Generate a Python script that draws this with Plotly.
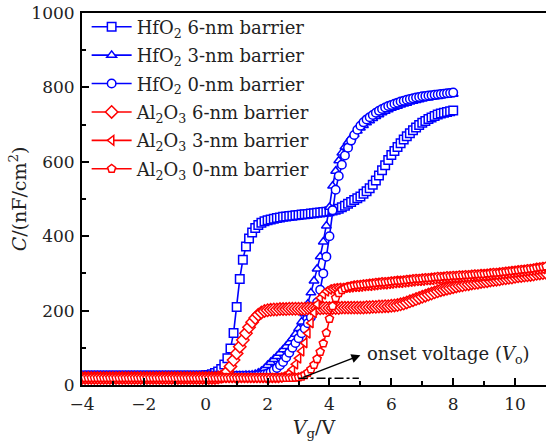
import plotly.graph_objects as go

# ---------------- data ----------------
V_HFO2 = [round(-4.0 + 0.1 * i, 1) for i in range(121)]    # gate-voltage sweep -4 ... 8 V
V_AL2O3 = [round(-4.0 + 0.1 * i, 1) for i in range(151)]   # gate-voltage sweep -4 ... 11 V

HFO2_6NM = [
    25, 25, 25, 25, 25, 25, 25, 25, 25, 25,
    25, 25, 25, 25, 25, 25, 25, 25, 25, 25,
    25, 25, 25, 25, 25, 25, 25, 25, 25, 25,
    25, 25, 25, 25, 25, 25, 25, 25, 25, 25,
    26, 27, 29, 32, 36, 43, 55, 72, 98, 140,
    210, 285, 337, 372, 394, 410, 422, 430, 436, 440,
    443, 445, 447, 449, 450, 452, 453, 454, 455, 456,
    457, 458, 459, 460, 461, 462, 463, 464, 465, 466,
    467, 469, 471, 474, 478, 482, 487, 492, 497, 502,
    507, 514, 521, 529, 538, 550, 563, 577, 591, 605,
    618, 629, 640, 650, 660, 669, 677, 685, 692, 699,
    705, 710, 715, 719, 723, 727, 730, 732, 734, 736,
    738,
]
HFO2_3NM = [
    25, 25, 25, 25, 25, 25, 25, 25, 25, 25,
    25, 25, 25, 25, 25, 25, 25, 25, 25, 25,
    25, 25, 25, 25, 25, 25, 25, 25, 25, 25,
    25, 25, 25, 25, 25, 25, 25, 25, 25, 25,
    25, 25, 25, 25, 25, 25, 25, 25, 25, 25,
    25, 25, 25, 26, 26, 27, 29, 32, 37, 44, 53,
    61, 69, 77, 86, 95, 104, 114, 125, 137, 152,
    170, 192, 218, 248, 280, 312, 345, 385, 428, 478,
    535, 575, 603, 624, 640, 653, 664, 674, 683, 691,
    698, 705, 711, 717, 722, 727, 732, 736, 740, 744,
    747, 750, 753, 756, 758, 761, 763, 765, 767, 769,
    771, 772, 774, 775, 776, 778, 779, 780, 781, 782,
    783,
]
HFO2_0NM = [
    25, 25, 25, 25, 25, 25, 25, 25, 25, 25,
    25, 25, 25, 25, 25, 25, 25, 25, 25, 25,
    25, 25, 25, 25, 25, 25, 25, 25, 25, 25,
    25, 25, 25, 25, 25, 25, 25, 25, 25, 25,
    25, 25, 25, 25, 25, 25, 25, 25, 25, 25,
    25, 25, 25, 25, 25, 25,
    25, 26, 27, 29,
    31, 35, 40, 46, 53, 62, 74, 87, 100, 113,
    126, 139, 152, 166, 182, 200, 222, 256, 300, 345,
    400, 470, 525, 562, 592, 617, 638, 657, 672, 686,
    697, 706, 714, 720, 726, 732, 737, 742, 746, 750,
    753, 756, 759, 762, 764, 767, 769, 771, 773, 774,
    776, 777, 778, 779, 780, 781, 782, 783, 784, 785,
    786,
]
AL2O3_6NM = [
    19, 19, 19, 19, 19, 19, 19, 19, 19, 19,
    19, 19, 19, 19, 19, 19, 19, 19, 19, 19,
    19, 19, 19, 19, 19, 19, 19, 19, 19, 19,
    19, 19, 19, 19, 19, 19, 19, 19, 19, 19,
    19, 19, 19, 19,
    20, 22, 27, 36, 50, 67,
    85, 103, 121, 139, 155, 169, 180, 189, 195, 199,
    201, 202, 203, 203, 204, 204, 204, 205, 205, 205,
    205, 205, 205, 206, 206, 206, 206, 206, 207, 207,
    207, 207, 207, 207, 208, 208, 208, 208, 208, 208,
    208, 208, 209, 209, 210, 210, 211, 211, 212, 212,
    213, 214, 215, 217, 219, 222, 225, 228, 231, 234,
    237, 240, 243, 246, 249, 252, 255, 257, 259, 261,
    263, 265, 267, 268, 270, 271, 273, 274, 275, 277,
    278, 279, 281, 282, 283, 284, 286, 287, 288, 289,
    291, 292, 293, 294, 295, 296, 297, 299, 300, 301,
    302,
]
AL2O3_3NM = [
    19, 19, 19, 19, 19, 19, 19, 19, 19, 19,
    19, 19, 19, 19, 19, 19, 19, 19, 19, 19,
    19, 19, 19, 19, 19, 19, 19, 19, 19, 19,
    19, 19, 19, 19, 19, 19, 19, 19, 19, 19,
    19, 19, 19, 19, 19, 19, 19, 19, 19, 19,
    19, 19, 19, 19, 19, 19, 19, 19, 19, 19,
    19, 19, 19, 19,
    20, 22, 26, 32, 42, 56,
    72, 91, 113, 139, 167, 194, 217, 234, 244, 252,
    257, 259, 260, 261, 261, 262, 262, 263, 264, 264,
    265, 266, 267, 267, 268, 269, 270, 271, 271, 272,
    273, 274, 275, 275, 276, 277, 278, 279, 280, 280,
    281, 282, 282, 283, 284, 285, 285, 286, 287, 287,
    288, 288, 289, 289, 290, 290, 291, 292, 292, 293,
    293, 294, 295, 296, 296, 297, 298, 299, 300, 301,
    302, 303, 304, 305, 306, 307, 308, 310, 311, 312,
    313,
]
AL2O3_0NM = [
    19, 19, 19, 19, 19, 19, 19, 19, 19, 19,
    19, 19, 19, 19, 19, 19, 19, 19, 19, 19,
    19, 19, 19, 19, 19, 19, 19, 19, 19, 19,
    19, 19, 19, 19, 19, 19, 19, 19, 19, 19,
    19, 19, 19, 19, 19, 19, 19, 19, 19, 19,
    19, 19, 19, 19, 19, 19, 19, 19, 19, 19,
    19, 19, 19, 19, 19, 19, 19, 19, 19,
    20,
    21, 23, 27, 33, 42, 54, 70, 89, 112, 140,
    178, 212, 234, 247, 255, 260, 264, 266, 268, 269,
    270, 271, 272, 273, 274, 275, 276, 277, 277, 278,
    279, 280, 281, 281, 282, 283, 284, 285, 286, 286,
    287, 288, 288, 289, 290, 291, 291, 292, 293, 293,
    294, 294, 295, 295, 296, 296, 297, 298, 298, 299,
    299, 300, 301, 302, 302, 303, 304, 305, 306, 307,
    308, 309, 310, 311, 312, 313, 314, 316, 317, 318,
    319,
]

SERIES_NAMES = [
    "HfO<sub>2</sub> 6-nm barrier",
    "HfO<sub>2</sub> 3-nm barrier",
    "HfO<sub>2</sub> 0-nm barrier",
    "Al<sub>2</sub>O<sub>3</sub> 6-nm barrier",
    "Al<sub>2</sub>O<sub>3</sub> 3-nm barrier",
    "Al<sub>2</sub>O<sub>3</sub> 0-nm barrier",
]
X_TICKS = [-4, -2, 0, 2, 4, 6, 8, 10]
Y_TICKS = [0, 200, 400, 600, 800, 1000]

# onset-voltage annotation anchors (data units)
ONSET_TAIL = (3.1, 19)
ONSET_HEAD = (5.0, 80)
ONSET_TEXT_AT = (5.15, 81)
ONSET_GUIDE_X = (3.0, 4.95)
ONSET_GUIDE_Y = 18

# ---------------- figure ----------------
BLUE = "#0000ff"
RED = "#ff0000"
FONT = "DejaVu Serif"

traces = [
    (V_HFO2, HFO2_6NM, BLUE, "square"),
    (V_HFO2, HFO2_3NM, BLUE, "triangle-up"),
    (V_HFO2, HFO2_0NM, BLUE, "circle"),
    (V_AL2O3, AL2O3_6NM, RED, "diamond"),
    (V_AL2O3, AL2O3_3NM, RED, "triangle-left"),
    (V_AL2O3, AL2O3_0NM, RED, "pentagon"),
]

fig = go.Figure()
for k, (name, (xv, yv, col, sym)) in enumerate(zip(SERIES_NAMES, traces)):
    fig.add_trace(go.Scatter(
        x=xv, y=yv, name=name, mode="lines+markers", legendgroup=f"g{k}",
        line=dict(color=col, width=1.6),
        marker=dict(symbol=sym, size=8.5 if sym != "diamond" else 9.5, color="white",
                    line=dict(color=col, width=1.5)),
    ))

axis_common = dict(
    showline=True, linewidth=2, linecolor="black", showgrid=False, zeroline=False,
    ticks="inside", ticklen=7, tickwidth=1.5, tickcolor="black",
    tickfont=dict(family=FONT, size=17, color="#222222"),
)

fig.update_layout(
    width=546, height=441,
    margin=dict(l=82, r=0, t=13, b=56),
    paper_bgcolor="white", plot_bgcolor="white",
    font=dict(family=FONT, size=17, color="#222222"),
    showlegend=True,
    legend=dict(x=0.01, y=1.012, xanchor="left", yanchor="top",
                bgcolor="rgba(0,0,0,0)", borderwidth=0, tracegroupgap=2,
                itemwidth=40,
                font=dict(family=FONT, size=18, color="#222222")),
    xaxis=dict(
        range=[-4, 11], tickvals=X_TICKS, mirror=True, ticklabelstandoff=3,
        minor=dict(dtick=1, ticks="inside", ticklen=4, tickwidth=1.5, tickcolor="black"),
        title=dict(text="<i>V</i><sub>g</sub>/V", font=dict(family=FONT, size=19), standoff=11),
        automargin=False,
        **axis_common,
    ),
    yaxis=dict(
        range=[0, 1000], tickvals=Y_TICKS, ticklabelstandoff=2,
        minor=dict(dtick=100, ticks="inside", ticklen=4, tickwidth=1.5, tickcolor="black"),
        title=dict(text="<i>C</i>/(nF/cm<sup>2</sup>)", font=dict(family=FONT, size=19), standoff=0),
        automargin=False,
        **axis_common,
    ),
)

fig.add_shape(type="line", xref="x", yref="y",
              x0=ONSET_GUIDE_X[0], x1=ONSET_GUIDE_X[1], y0=ONSET_GUIDE_Y, y1=ONSET_GUIDE_Y,
              line=dict(color="black", width=1.5, dash="dashdot"))
fig.add_annotation(x=ONSET_HEAD[0], y=ONSET_HEAD[1], ax=ONSET_TAIL[0], ay=ONSET_TAIL[1],
                   xref="x", yref="y", axref="x", ayref="y", text="",
                   showarrow=True, arrowhead=2, arrowsize=1.2, arrowwidth=1.5,
                   arrowcolor="black", standoff=0, startstandoff=0)
fig.add_annotation(x=ONSET_TEXT_AT[0], y=ONSET_TEXT_AT[1], xref="x", yref="y",
                   text="onset voltage (<i>V</i><sub>o</sub>)", showarrow=False,
                   xanchor="left", yanchor="middle",
                   font=dict(family=FONT, size=18, color="#222222"))

fig.write_html("out.html")
